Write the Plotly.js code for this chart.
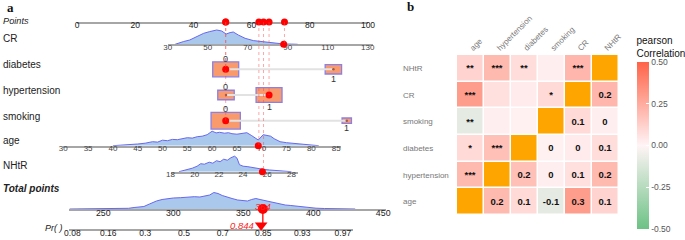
<!DOCTYPE html>
<html><head><meta charset="utf-8">
<script src="https://cdn.plot.ly/plotly-3.0.1.min.js"></script>
<style>html,body{margin:0;padding:0;background:#fff}#chart{width:685px;height:240px}</style>
</head><body><div id="chart"></div>
<script>
// ================= DATA =================
const rowNames = ['Points','CR','diabetes','hypertension','smoking','age','NHtR','Total points'];
const pointsTicks = [0,20,40,60,80,100];
const crTicks = [30,50,70,90,110,130];
const ageTicks = [30,35,40,45,50,55,60,65,70,75,80,85];
const nhtrTicks = [18,20,22,24,26,28];
const totalTicks = [250,300,350,400,450];
const prTicks = [0.08,0.16,0.3,0.5,0.7,0.85,0.93,0.97];

// densities (relative heights)
const crDensX = [33.7,36,38,41,44.5,48,51,54.5,57,59.2,61.2,62.8,65.3,68.7,72.8,78.7,84.5,88,92,95];
const crDensY = [0,1.7,2.8,4.3,7.7,11,12.7,14.3,13.3,10.3,11.7,12.3,9.3,6,3.7,2.3,0.7,0.3,0.2,0];
const ageDensX = [40,42,44,45,46.5,48,49,50,51,52,53,55,56,57,58,59,60,60.8,61.5,62.5,63.3,64,65,66,67,68,68.7,69.3,70.3,71,71.8,72.5,73.7,75,76.5,78,80,81.5];
const ageDensY = [0,0.5,1,1.7,2.5,4,3.6,5.5,5,6.3,6,8,7.6,9,9.5,11,14.5,12.8,13.4,12.5,13,12,11.5,12.5,13,10,7.5,5.7,11,10,9.5,7,4,3,2.3,1.5,0.7,0];
const nhtrDensX = [18.7,19.3,19.8,20.2,20.5,20.8,21.2,21.5,21.8,22.1,22.4,22.7,23.0,23.3,23.5,23.7,24.0,24.4,24.8,25.2,25.7,26.2,26.8,27.4,28.0];
const nhtrDensY = [0,1.7,3.5,5.5,8,7.5,9.5,8.5,11,10,12.5,11.5,14,15.5,13.5,7,5.5,5,4,3.2,2.3,1.7,1.2,0.5,0];
const totalDensX = [226,262,268,272,276,279,283,288,292,296,300,305,310,315,319,323,326,329,332,335,338,342,346,350,353,356,359,362,365,368,372,376,380,384,390,396,402,408,414,420,426,430];
const totalDensY = [0,0,0.7,1.5,2,2.5,5,8,9.5,10.5,11,11.3,12,12.3,12,13,14,16.5,15.5,13.5,12.5,10.5,9,8,8,9.5,10.5,9.5,8.5,7.5,6,5,4,3.5,2.5,1.5,0.8,0.5,0.3,0.2,0.1,0];

// categorical variables: points of each level and frequency (%)
const diabetesPts = [51.1, 88.1];
const diabetesFreq = [71.5, 28.5];
const hypertensionPts = [51.2, 66.0];
const hypertensionFreq = [28.8, 71.2];
const smokingPts = [51.1, 92.7];
const smokingFreq = [90.7, 9.3];

// observation shown on the nomogram
const obsCR = 88, obsAge = 69.3, obsNHtR = 25.6;
const obsDiabetes = 0, obsHypertension = 1, obsSmoking = 0;
const obsPointsCR = 71.3, obsPointsDiabetes = 51.1, obsPointsHypertension = 66.0,
      obsPointsSmoking = 51.1, obsPointsAge = 62.5, obsPointsNHtR = 64.1;
const obsTotal = 364;
const obsProb = 0.844;

// correlation panel
const corrVars = ['age','hypertension','diabetes','smoking','CR','NHtR'];
const corrMatrix = [
  [1.00, 0.20, 0.09,-0.09, 0.30, 0.11],
  [0.20, 1.00, 0.18, 0.02, 0.07, 0.20],
  [0.09, 0.18, 1.00, 0.01, 0.03, 0.08],
  [-0.09,0.02, 0.01, 1.00, 0.09, 0.02],
  [0.30, 0.07, 0.03, 0.09, 1.00, 0.21],
  [0.11, 0.20, 0.08, 0.02, 0.21, 1.00]
];
const corrStars = [
  ['',   '***','*', '**','***','**'],
  ['***','',   '***','', '',   '***'],
  ['*',  '***','',   '', '',   '**'],
  ['**', '',   '',   '', '*',  ''],
  ['***','',   '',   '*','',   '***'],
  ['**', '***','**', '', '***','']
];
const cbTicks = [-0.5,-0.25,0,0.25,0.5];

// ================= LAYOUT HELPERS =================
const W = 685, H = 240;
const fx = p => p / W, fy = p => 1 - p / H;
const FONT = 'Liberation Sans, Arial, sans-serif';
const logit = p => Math.log(p / (1 - p));

const AX = {
  points: {dom:[77,368],     range:[0,100],        line:22},
  CR:     {dom:[167.7,372.7],range:[30,132.5],     line:44.3},
  age:    {dom:[63.3,341.1], range:[30,86],        line:145.7},
  NHtR:   {dom:[170.5,297.5],range:[18,28.5],      line:171.7},
  total:  {dom:[69,386],     range:[225.5,452],    line:209},
  pr:     {dom:[69,353],     range:[-2.516,3.698], line:229.3}
};
const catRows = {diabetes:69.3, hypertension:95, smoking:120.7};
const pxPerPt = (AX.points.dom[1]-AX.points.dom[0]) / 100;
const boxK = 3.075, boxAspect = 0.575;

const DENS_C = '#6868EE', DENS_F = '#A9C8EC';
const AXLINE = '#A6A6A6';

function xAxis(a, anchor, ticks, tickText, fsize, fcolor){
  return {domain:[fx(a.dom[0]), fx(a.dom[1])], range:a.range, anchor:anchor,
    tickvals:ticks, ticktext:tickText || ticks.map(String), ticks:'', showgrid:false, zeroline:false,
    showline:true, linecolor:AXLINE, linewidth:2, layer:'below traces',
    tickfont:{family:FONT, size:fsize||8, color:fcolor||'#444'}, fixedrange:true, ticklabelstandoff:-6};
}
function yDens(a){
  return {domain:[fy(a.line), fy(a.line-20)], range:[0,20], visible:false, fixedrange:true};
}

const layout = {
  width:W, height:H, margin:{l:0,r:0,t:0,b:0}, paper_bgcolor:'#fff', plot_bgcolor:'rgba(0,0,0,0)',
  showlegend:false, barmode:'overlay', font:{family:FONT},
  xaxis:  xAxis(AX.points,'y', pointsTicks, null, 8.5, '#222'),
  yaxis:  {domain:[fy(AX.points.line), fy(AX.points.line-10)], range:[0,1], visible:false},
  xaxis2: xAxis(AX.CR,'y2', crTicks),
  yaxis2: yDens(AX.CR),
  xaxis3: xAxis(AX.age,'y3', ageTicks),
  yaxis3: yDens(AX.age),
  xaxis4: xAxis(AX.NHtR,'y4', nhtrTicks),
  yaxis4: yDens(AX.NHtR),
  xaxis5: xAxis(AX.total,'y5', totalTicks, null, 8.8, '#222'),
  yaxis5: yDens(AX.total),
  xaxis6: xAxis(AX.pr,'y6', prTicks.map(logit), prTicks.map(String), 8.5, '#222'),
  yaxis6: {domain:[fy(AX.pr.line), fy(AX.pr.line-12)], range:[0,12], visible:false},
  shapes:[], annotations:[]
};
// categorical row axes
['diabetes','hypertension','smoking'].forEach((k,i)=>{
  layout['yaxis'+(8+i)] = {domain:[fy(catRows[k]+15), fy(catRows[k]-15)], range:[-15,15], visible:false, anchor:'x'};
});

const traces = [];
// densities
[[crDensX,crDensY,'x2','y2'],[ageDensX,ageDensY,'x3','y3'],[nhtrDensX,nhtrDensY,'x4','y4'],[totalDensX,totalDensY,'x5','y5']]
.forEach(d=>{
  traces.push({type:'scatter', mode:'lines', x:d[0], y:d[1], xaxis:d[2], yaxis:d[3],
    fill:'tozeroy', fillcolor:DENS_F, line:{color:DENS_C, width:1}, hoverinfo:'skip'});
});

// categorical boxes
const cats = [
  ['diabetes', diabetesPts, diabetesFreq, obsDiabetes, 'y8'],
  ['hypertension', hypertensionPts, hypertensionFreq, obsHypertension, 'y9'],
  ['smoking', smokingPts, smokingFreq, obsSmoking, 'y10']
];
cats.forEach(c=>{
  const [name, pts, freq, obs, ya] = c;
  const wpx = freq.map(f=>boxK*Math.sqrt(f));
  const hpx = wpx.map(w=>w*boxAspect);
  traces.push({type:'scatter', mode:'lines', x:pts, y:[0,0], xaxis:'x', yaxis:ya,
    line:{color:'#E2E2E2', width:2}, hoverinfo:'skip'});
  traces.push({type:'bar', x:pts, y:hpx, base:hpx.map(h=>-h/2), width:wpx.map(w=>w/pxPerPt),
    xaxis:'x', yaxis:ya, marker:{color:'#F99A6C', line:{color:'#8A80E6', width:1.3}}, hoverinfo:'skip'});
  const other = pts.map((p,i)=>i).filter(i=>i!==obs);
  traces.push({type:'scatter', mode:'markers', x:other.map(i=>pts[i]), y:other.map(()=>0), xaxis:'x', yaxis:ya,
    marker:{color:'#9B5B45', size:2.5}, hoverinfo:'skip', cliponaxis:false});
  traces.push({type:'scatter', mode:'markers', x:[pts[obs]], y:[0], xaxis:'x', yaxis:ya,
    marker:{color:'#FF0000', size:7}, hoverinfo:'skip', cliponaxis:false});
  layout.annotations.push({xref:'x', yref:ya, x:pts[0], y:hpx[0]/2, yanchor:'middle', yshift:3, showarrow:false,
    text:'0', font:{family:FONT, size:9, color:'#333'}});
  layout.annotations.push({xref:'x', yref:ya, x:pts[1], y:-hpx[1]/2, yanchor:'middle', yshift:-4.5, showarrow:false,
    text:'1', font:{family:FONT, size:9, color:'#333'}});
});

// observation points on the Points axis + vertical guides
const obsList = [
  [obsPointsCR, AX.CR.line], [obsPointsDiabetes, catRows.diabetes], [obsPointsHypertension, catRows.hypertension],
  [obsPointsSmoking, catRows.smoking], [obsPointsAge, AX.age.line], [obsPointsNHtR, AX.NHtR.line]
];
obsList.forEach(o=>{
  layout.shapes.push({type:'line', xref:'x', yref:'paper', x0:o[0], x1:o[0], y0:fy(AX.points.line), y1:fy(o[1]),
    line:{color:'rgba(255,70,70,0.6)', width:0.8, dash:'dot'}, layer:'above'});
});
traces.push({type:'scatter', mode:'markers', x:obsList.map(o=>o[0]), y:obsList.map(()=>0), xaxis:'x', yaxis:'y',
  marker:{color:'#FF0000', size:7}, cliponaxis:false, hoverinfo:'skip'});
traces.push({type:'scatter', mode:'markers', x:[obsCR], y:[0], xaxis:'x2', yaxis:'y2', marker:{color:'#FF0000', size:7}, cliponaxis:false, hoverinfo:'skip'});
traces.push({type:'scatter', mode:'markers', x:[obsAge], y:[0], xaxis:'x3', yaxis:'y3', marker:{color:'#FF0000', size:7}, cliponaxis:false, hoverinfo:'skip'});
traces.push({type:'scatter', mode:'markers', x:[obsNHtR], y:[0], xaxis:'x4', yaxis:'y4', marker:{color:'#FF0000', size:7}, cliponaxis:false, hoverinfo:'skip'});
// total + probability
layout.shapes.push({type:'line', xref:'x5', yref:'paper', x0:obsTotal, x1:obsTotal, y0:fy(AX.total.line), y1:fy(AX.pr.line-4),
  line:{color:'#FF0000', width:1.3}, layer:'above'});
traces.push({type:'scatter', mode:'markers', x:[obsTotal], y:[0], xaxis:'x5', yaxis:'y5', marker:{color:'#FF0000', size:10}, cliponaxis:false, hoverinfo:'skip'});
traces.push({type:'scatter', mode:'markers', x:[logit(obsProb)], y:[4], xaxis:'x6', yaxis:'y6', marker:{color:'#FF0000', size:11, symbol:'triangle-down'}, cliponaxis:false, hoverinfo:'skip'});
layout.annotations.push({xref:'x5', yref:'y5', x:obsTotal, y:0, yshift:3, showarrow:false, text:'<i>'+obsTotal+'</i>',
  font:{family:FONT, size:9.5, color:'#FF2020'}});
layout.annotations.push({xref:'x6', yref:'y6', x:logit(obsProb), y:4, xanchor:'right', xshift:-5, showarrow:false,
  text:'<i>'+obsProb+'</i>', font:{family:FONT, size:9.5, color:'#FF2020'}});

// row labels
const labelY = [21,39,64.3,90,116,140.7,165.3,188.7];
rowNames.forEach((n,i)=>{
  let t = n, sz = 10;
  if (n==='Points'){ t = '<i>'+n+'</i>'; sz = 9.2; }
  if (n==='Total points'){ t = '<b><i>'+n+'</i></b>'; sz = 10; }
  layout.annotations.push({xref:'paper', yref:'paper', x:fx(1), y:fy(labelY[i]), xanchor:'left', yanchor:'middle',
    showarrow:false, text:t, font:{family:FONT, size:sz, color:'#222'}});
});
layout.annotations.push({xref:'paper', yref:'paper', x:fx(65), y:fy(228), xanchor:'right', yanchor:'middle',
  showarrow:false, text:'<i>Pr( )</i>', font:{family:FONT, size:9, color:'#222'}});
// panel letters
layout.annotations.push({xref:'paper', yref:'paper', x:fx(5), y:fy(7), xanchor:'left', yanchor:'middle', showarrow:false,
  text:'<b>a</b>', font:{family:'Liberation Serif, serif', size:13, color:'#111'}});
layout.annotations.push({xref:'paper', yref:'paper', x:fx(405), y:fy(6), xanchor:'left', yanchor:'middle', showarrow:false,
  text:'<b>b</b>', font:{family:'Liberation Serif, serif', size:13, color:'#111'}});

// ================= HEATMAP =================
const n = corrVars.length;
const zMain = [], zDiag = [], tMain = [];
for (let r=0;r<n;r++){
  zMain.push([]); zDiag.push([]); tMain.push([]);
  for (let c=0;c<n;c++){
    if (r===c){ zMain[r].push(null); zDiag[r].push(1); tMain[r].push(''); }
    else {
      zMain[r].push(corrMatrix[r][c]); zDiag[r].push(null);
      if (c>r){ const v = Math.round(corrMatrix[r][c]*10)/10; tMain[r].push(String(v===0?0:v)); }
      else tMain[r].push(corrStars[r][c]);
    }
  }
}
traces.push({type:'heatmap', x:corrVars, y:corrVars, z:zMain, text:tMain, texttemplate:'%{text}',
  textfont:{family:FONT, size:9.5, color:'#111', weight:'bold'}, xaxis:'x7', yaxis:'y7',
  zmin:-0.5, zmax:0.5, xgap:1.5, ygap:1.5, hoverinfo:'skip',
  colorscale:[[0,'#6CC285'],[0.5,'#FFF4F6'],[1,'#FF6347']],
  colorbar:{x:fx(636.5), xanchor:'left', xpad:0, y:fy(131), yanchor:'middle', ypad:0, len:196, lenmode:'pixels',
    thickness:12, outlinewidth:0, tickvals:cbTicks.map(v=>v*0.999), ticktext:cbTicks.map(v=>v.toFixed(2)),
    ticks:'inside', ticklen:3, tickcolor:'#fff', tickfont:{family:FONT, size:8.5, color:'#555'},
    title:{text:'pearson<br>Correlation', side:'top', font:{family:FONT, size:10, color:'#111'}}}
});
traces.push({type:'heatmap', x:corrVars, y:corrVars, z:zDiag, xaxis:'x7', yaxis:'y7', showscale:false,
  colorscale:[[0,'#FFA500'],[1,'#FFA500']], xgap:1.5, ygap:1.5, hoverinfo:'skip'});

layout.xaxis7 = {domain:[fx(457), fx(618.5)], anchor:'y7', side:'top', tickangle:-45, ticks:'', showgrid:false,
  zeroline:false, showline:false, tickfont:{family:FONT, size:8, color:'#777'}, fixedrange:true};
layout.yaxis7 = {domain:[fy(215), fy(55)], anchor:'free', position:fx(402), side:'right', ticks:'', showgrid:false,
  zeroline:false, showline:false, tickfont:{family:FONT, size:8, color:'#777'}, fixedrange:true};

Plotly.newPlot('chart', traces, layout, {staticPlot:true, displayModeBar:false});
</script></body></html>
